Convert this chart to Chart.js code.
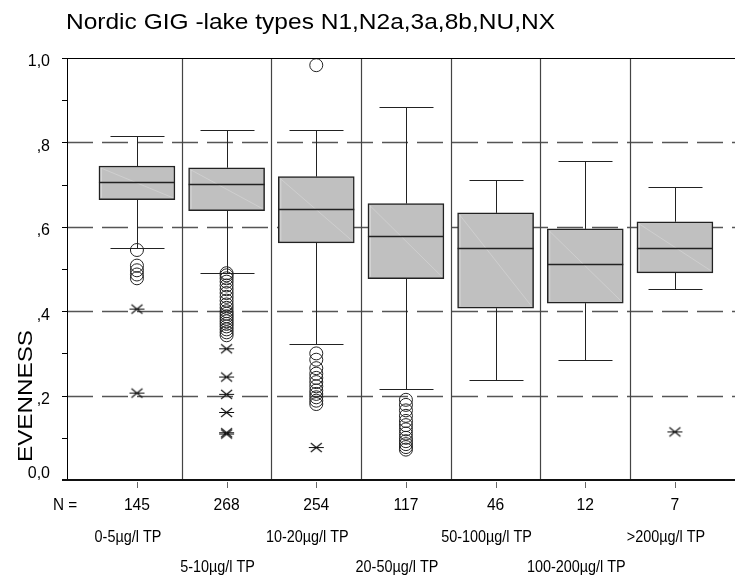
<!DOCTYPE html>
<html>
<head>
<meta charset="utf-8">
<script src="https://cdn.jsdelivr.net/npm/chart.js@4/dist/chart.umd.min.js"></script>
<style>
  html, body { margin: 0; padding: 0; background: #ffffff; }
  #wrap { width: 743px; height: 581px; }
</style>
</head>
<body>
<div id="wrap"><canvas id="chart" width="743" height="581"></canvas></div>
<script>
// Phosphorus classes (TP) and number of lakes per class
const categories = ['0-5µg/l TP', '5-10µg/l TP', '10-20µg/l TP', '20-50µg/l TP',
                    '50-100µg/l TP', '100-200µg/l TP', '>200µg/l TP'];
const counts = [145, 268, 254, 117, 46, 12, 7];

// Box statistics of EVENNESS per class
const whiskerLow  = [0.550, 0.491, 0.322, 0.216, 0.237, 0.284, 0.453];
const quartile1   = [0.664, 0.638, 0.562, 0.477, 0.407, 0.419, 0.491];
const medians     = [0.706, 0.701, 0.642, 0.579, 0.550, 0.512, 0.550];
const quartile3   = [0.744, 0.740, 0.719, 0.655, 0.633, 0.595, 0.612];
const whiskerHigh = [0.816, 0.829, 0.829, 0.883, 0.710, 0.757, 0.694];

// Outliers (circles) and extreme values (asterisks) per class
const outliers = [
  [0.545, 0.508, 0.497, 0.487, 0.478],
  [0.490, 0.485, 0.478, 0.470, 0.461, 0.452, 0.443, 0.434, 0.425, 0.416, 0.408,
   0.400, 0.394, 0.388, 0.382, 0.376, 0.370, 0.364, 0.357, 0.350, 0.343],
  [0.983, 0.300, 0.285, 0.265, 0.252, 0.242, 0.232, 0.222, 0.212, 0.204, 0.196, 0.188, 0.180],
  [0.190, 0.178, 0.165, 0.152, 0.140, 0.130, 0.120, 0.110, 0.100, 0.092, 0.085, 0.078, 0.072],
  [], [], []
];
const extremes = [
  [0.405, 0.206],
  [0.311, 0.244, 0.203, 0.160, 0.112, 0.109],
  [0.077],
  [], [], [],
  [0.114]
];

// Value axis ticks
const yTickValues = [0, 0.2, 0.4, 0.6, 0.8, 1.0];
const yTickLabels = ['0,0', ',2', ',4', ',6', ',8', '1,0'];
const gridValues  = [0.2, 0.4, 0.6, 0.8];

const TITLE = 'Nordic GIG -lake types N1,N2a,3a,8b,NU,NX';
const Y_TITLE = 'EVENNESS';
const FONT = '"Liberation Sans", Arial, sans-serif';

// Asterisk marker used for extreme values
function makeAsterisk() {
  const c = document.createElement('canvas');
  c.width = 17; c.height = 13;
  const g = c.getContext('2d');
  g.strokeStyle = '#111';
  g.lineWidth = 1.1;
  g.beginPath();
  g.moveTo(1, 6.5); g.lineTo(16, 6.5);
  g.moveTo(3, 2); g.lineTo(14, 11);
  g.moveTo(3, 11); g.lineTo(14, 2);
  g.stroke();
  return c;
}

const boxData = categories.map((_, i) => ({ x: i, y: [quartile1[i], quartile3[i]] }));
const outlierData = [];
outliers.forEach((arr, i) => arr.forEach(v => outlierData.push({ x: i, y: v })));
const extremeData = [];
extremes.forEach((arr, i) => arr.forEach(v => extremeData.push({ x: i, y: v })));

function scaledText(ctx, text, x, y, size, align, sx) {
  ctx.save();
  ctx.font = size + 'px ' + FONT;
  ctx.textAlign = align;
  ctx.translate(x, y);
  ctx.scale(sx, 1);
  ctx.fillText(text, 0, 0);
  ctx.restore();
}

const boxPlotPlugin = {
  id: 'boxPlotDecor',
  beforeDatasetsDraw(chart) {
    const ctx = chart.ctx;
    const xs = chart.scales.x, ys = chart.scales.y;
    const area = chart.chartArea;
    ctx.save();
    // dashed reference lines
    ctx.strokeStyle = '#555';
    ctx.lineWidth = 1.3;
    ctx.setLineDash([26, 9]);
    gridValues.forEach(v => {
      const y = Math.round(ys.getPixelForValue(v)) + 0.5;
      ctx.beginPath(); ctx.moveTo(area.left, y); ctx.lineTo(area.right, y); ctx.stroke();
    });
    ctx.setLineDash([]);
    // class separators
    ctx.strokeStyle = '#444';
    ctx.lineWidth = 1.2;
    for (let i = 0; i < categories.length - 1; i++) {
      const x = Math.round(xs.getPixelForValue(i + 0.5)) + 0.5;
      ctx.beginPath(); ctx.moveTo(x, area.top); ctx.lineTo(x, area.bottom); ctx.stroke();
    }
    // whiskers
    ctx.strokeStyle = '#222';
    ctx.lineWidth = 1;
    const capHalf = 27;
    categories.forEach((_, i) => {
      const x = Math.round(xs.getPixelForValue(i)) + 0.5;
      const yHi = Math.round(ys.getPixelForValue(whiskerHigh[i])) + 0.5;
      const yLo = Math.round(ys.getPixelForValue(whiskerLow[i])) + 0.5;
      const yQ3 = ys.getPixelForValue(quartile3[i]);
      const yQ1 = ys.getPixelForValue(quartile1[i]);
      ctx.beginPath();
      ctx.moveTo(x, yHi); ctx.lineTo(x, yQ3);
      ctx.moveTo(x, yQ1); ctx.lineTo(x, yLo);
      ctx.moveTo(x - capHalf, yHi); ctx.lineTo(x + capHalf, yHi);
      ctx.moveTo(x - capHalf, yLo); ctx.lineTo(x + capHalf, yLo);
      ctx.stroke();
    });
    ctx.restore();
  },
  afterDatasetsDraw(chart) {
    const ctx = chart.ctx;
    const xs = chart.scales.x, ys = chart.scales.y;
    const area = chart.chartArea;
    const meta = chart.getDatasetMeta(0);
    ctx.save();
    // box shading diagonal and medians
    meta.data.forEach((bar, i) => {
      const p = bar.getProps(['x', 'y', 'base', 'width'], true);
      const left = p.x - p.width / 2, right = p.x + p.width / 2;
      const top = Math.min(p.y, p.base), bottom = Math.max(p.y, p.base);
      ctx.strokeStyle = 'rgba(225,225,225,0.7)';
      ctx.lineWidth = 0.6;
      ctx.beginPath();
      ctx.moveTo(left + 2, top + 2); ctx.lineTo(right - 2, bottom - 2);
      ctx.stroke();
      ctx.strokeStyle = 'rgba(235,235,235,0.8)';
      ctx.beginPath();
      ctx.moveTo(left + 2.5, top + 2); ctx.lineTo(left + 2.5, bottom - 2);
      ctx.stroke();
      const ym = Math.round(ys.getPixelForValue(medians[i])) + 0.5;
      ctx.strokeStyle = '#222';
      ctx.lineWidth = 1.5;
      ctx.beginPath(); ctx.moveTo(left, ym); ctx.lineTo(right, ym); ctx.stroke();
    });
    // frame and axes
    ctx.strokeStyle = '#000';
    ctx.lineWidth = 1;
    ctx.beginPath();
    ctx.moveTo(area.left, area.top + 0.5); ctx.lineTo(area.right, area.top + 0.5);
    ctx.moveTo(area.left + 0.5, area.top); ctx.lineTo(area.left + 0.5, area.bottom);
    ctx.stroke();
    ctx.lineWidth = 2;
    ctx.strokeStyle = '#111';
    ctx.beginPath();
    ctx.moveTo(area.left - 5, area.bottom); ctx.lineTo(area.right, area.bottom);
    ctx.stroke();
    // value axis ticks every 0.1
    ctx.lineWidth = 1;
    ctx.strokeStyle = '#000';
    ctx.beginPath();
    for (let k = 1; k <= 10; k++) {
      const y = Math.round(ys.getPixelForValue(k / 10)) + 0.5;
      ctx.moveTo(area.left - 5, y); ctx.lineTo(area.left, y);
    }
    ctx.stroke();
    // category ticks below the axis
    ctx.strokeStyle = '#666';
    ctx.beginPath();
    categories.forEach((_, i) => {
      const x = Math.round(xs.getPixelForValue(i)) + 0.5;
      ctx.moveTo(x, area.bottom + 2); ctx.lineTo(x, area.bottom + 8);
    });
    ctx.stroke();

    ctx.fillStyle = '#000';
    ctx.textBaseline = 'middle';
    // value axis labels
    yTickValues.forEach((v, k) => {
      const y = ys.getPixelForValue(v) + (v === 0 ? -6 : 4);
      scaledText(ctx, yTickLabels[k], area.left - 17, y, 16, 'right', 1);
    });
    // counts row
    scaledText(ctx, 'N =', 53, 505, 17, 'left', 0.9);
    counts.forEach((n, i) => {
      scaledText(ctx, String(n), xs.getPixelForValue(i), 505, 17, 'center', 0.92);
    });
    // class labels on two staggered rows
    categories.forEach((c, i) => {
      const y = i % 2 === 0 ? 538 : 568;
      scaledText(ctx, c, xs.getPixelForValue(i) - 9, y, 16, 'center', 0.9);
    });
    // chart title
    ctx.textBaseline = 'alphabetic';
    ctx.font = '22px ' + FONT;
    const tw = ctx.measureText(TITLE).width;
    scaledText(ctx, TITLE, 66, 29, 22, 'left', 489 / tw);
    // value axis title
    ctx.font = '21px ' + FONT;
    const ew = ctx.measureText(Y_TITLE).width;
    ctx.save();
    ctx.translate(32, 396);
    ctx.rotate(-Math.PI / 2);
    scaledText(ctx, Y_TITLE, 0, 0, 21, 'center', 132 / ew);
    ctx.restore();
    ctx.restore();
  }
};

new Chart(document.getElementById('chart'), {
  type: 'bar',
  data: {
    datasets: [
      {
        type: 'bar',
        data: boxData,
        backgroundColor: '#c0c0c0',
        borderColor: '#222',
        borderWidth: 1.5,
        borderSkipped: false,
        barThickness: 76,
        order: 3
      },
      {
        type: 'scatter',
        data: outlierData,
        pointStyle: 'circle',
        radius: 6.5,
        borderWidth: 1,
        borderColor: '#222',
        backgroundColor: 'rgba(0,0,0,0)',
        order: 2
      },
      {
        type: 'scatter',
        data: extremeData,
        pointStyle: makeAsterisk(),
        radius: 7,
        order: 1
      }
    ]
  },
  options: {
    responsive: false,
    animation: false,
    devicePixelRatio: 1,
    layout: { padding: { left: 67, top: 58, right: 3, bottom: 101 } },
    plugins: { legend: { display: false }, tooltip: { enabled: false }, title: { display: false } },
    scales: {
      x: { type: 'linear', min: -0.78, max: 6.67, offset: false, display: false },
      y: { type: 'linear', min: 0, max: 1, display: false }
    }
  },
  plugins: [boxPlotPlugin]
});
</script>
</body>
</html>
